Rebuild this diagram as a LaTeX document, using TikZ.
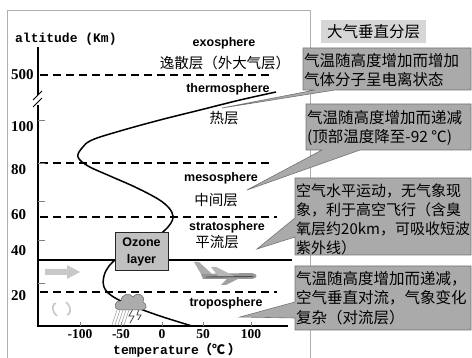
\documentclass[tikz,border=0pt]{standalone}
\usepackage{fontspec}
\setmainfont{Liberation Serif}
\setsansfont{Liberation Sans}
\setmonofont{Liberation Mono}
\newfontfamily\cjk{Noto Sans CJK SC}
\usetikzlibrary{calc,arrows.meta}

\definecolor{notegray}{RGB}{170,170,170}
\definecolor{noteedge}{RGB}{115,115,115}
\definecolor{titlegray}{RGB}{214,214,214}
\definecolor{ozonegray}{RGB}{192,192,192}
\definecolor{framegray}{RGB}{175,175,175}
\definecolor{palegray}{RGB}{200,200,200}
\definecolor{planegray}{RGB}{150,150,150}

\begin{document}
\begin{tikzpicture}[
		x=1pt,y=-1pt,
		every node/.style={inner sep=0pt},
		layername/.style={font=\sffamily\bfseries\fontsize{12.5}{14}\selectfont},
		layercn/.style={font=\cjk\fontsize{14.5}{16}\selectfont},
		notetext/.style={font=\cjk\fontsize{15.5}{19.5}\selectfont, align=left, anchor=north west},
		note/.style={fill=notegray, draw=noteedge, line width=0.6pt},
		level/.style={line width=1.3pt, dash pattern=on 8pt off 5pt},
		ylab/.style={font=\bfseries\fontsize{15}{16}\selectfont, anchor=west},
		xlab/.style={font=\bfseries\fontsize{13.5}{15}\selectfont},
	]
	\useasboundingbox (0,0) rectangle (472,358);

	% frame and title
	\draw[framegray, line width=0.8pt] (7,358) -- (7,10) -- (310,10) -- (310,358);
	\node[fill=titlegray, minimum width=105pt, minimum height=23pt,
		font=\cjk\fontsize{15.5}{16}\selectfont] (title) at (373.5,31.5) {大气垂直分层};

	% callouts
	\filldraw[note] (303,48) -- (471,48) -- (471,90) -- (335,90) -- (222,108) -- (315,90) -- (303,90) -- cycle;
	\filldraw[note] (306,104) -- (471,104) -- (471,150) -- (360,150) -- (247,190) -- (322,150) -- (306,150) -- cycle;
	\filldraw[note] (295,178) -- (471,178) -- (471,255) -- (295,255) -- (295,237) -- (257,249) -- (295,218) -- cycle;
	\filldraw[note] (295,266) -- (471,266) -- (471,330) -- (295,330) -- (295,318) -- (240,317) -- (295,302) -- cycle;
	\node[notetext] (thermonote) at (304,53) {气温随高度增加而增加\\气体分子呈电离状态};
	\node[notetext] (mesonote) at (307,110) {气温随高度增加而递减\\(顶部温度降至-92 ℃)};
	\node[notetext, font=\cjk\fontsize{15}{19}\selectfont] (stratonote) at (296,184)
		{空气水平运动，无气象现\\象，利于高空飞行（含臭\\氧层约20km，可吸收短波\\紫外线）};
	\node[notetext] (troponote) at (296,271) {气温随高度增加而递减，\\空气垂直对流，气象变化\\复杂（对流层）};

	% layer boundaries
	\draw[level] (40,75) -- (271,75);
	\draw[level] (40,163) -- (271,163);
	\draw[level] (40,217) -- (277,217);
	\draw[level] (40,292) -- (277,292);
	\draw[line width=1.2pt] (38,260) -- (292,260);

	% axes
	\draw[line width=1.3pt] (38,47) -- (38,95);
	\draw[line width=1.3pt] (38,105) -- (38,326) -- (288,326);
	\draw[line width=0.9pt] (33,100) -- (42,91);
	\draw[line width=0.9pt] (33,107) -- (42,98);
	\foreach \y in {120,163,201,240,283}
		\draw[gray, line width=0.8pt] (38,\y) -- (45,\y);
	\foreach \x in {80,121,162,203,251}
		\draw[gray, line width=0.8pt] (\x,326) -- (\x,322);

	\node[ylab] (y500) at (11,75) {500};
	\node[ylab] (y100) at (11,127) {100};
	\node[ylab] (y80) at (11,170) {80};
	\node[ylab] (y60) at (11,215) {60};
	\node[ylab] (y40) at (11,251) {40};
	\node[ylab] (y20) at (11,296) {20};
	\node[xlab] (xm100) at (80,334) {-100};
	\node[xlab] (xm50) at (121,334) {-50};
	\node[xlab] (x0) at (162,334) {0};
	\node[xlab] (x50) at (203,334) {50};
	\node[xlab] (x100) at (251,334) {100};
	\node[font=\ttfamily\bfseries\fontsize{13}{15}\selectfont, anchor=west] (altitude) at (15,39) {altitude (Km)};
	\node[anchor=west] (temperature) at (113,350)
		{\ttfamily\bfseries\fontsize{13}{15}\selectfont temperature\cjk（℃ ）};

	% temperature profile
	\draw[line width=1.5pt] plot[smooth, tension=0.6] coordinates {
		(192,326) (160,316) (130,305) (112,296) (104,287) (104,276) (109,266)
		(118,258) (135,249) (152,240) (164,231) (171,223) (173,216) (169,208)
		(158,199) (135,187) (110,176) (88,166) (78,157) (82,148) (92,140)
		(120,131) (160,120) (200,110) (240,100) (276,92)};

	\node[fill=ozonegray, draw=black!85, line width=1pt, minimum width=53pt, minimum height=38pt,
		align=center, font=\sffamily\bfseries\fontsize{12.5}{17}\selectfont] (ozone) at (141.5,252) {Ozone\\layer};

	% layer names
	\node[layername] (exo) at (224,43) {exosphere};
	\node[layercn] (exocn) at (225,63) {逸散层（外大气层）};
	\node[layername] (thermo) at (228,89) {thermosphere};
	\node[layercn] (thermocn) at (224,118) {热层};
	\node[layername] (meso) at (221,178) {mesosphere};
	\node[layercn] (mesocn) at (216,200) {中间层};
	\node[layername] (strato) at (227,227) {stratosphere};
	\node[layercn] (stratocn) at (217,242) {平流层};
	\node[layername] (tropo) at (226,303) {troposphere};

	% airplane
	\fill[planegray!80] (201,274) -- (194,262) -- (199,262) -- (212,274) -- cycle;
	\fill[planegray] (201,274) -- (252,273) .. controls (258,274) and (258,278) .. (252,279) -- (203,279) -- cycle;
	\fill[planegray!70] (218,276) -- (211,267) -- (216,267) -- (234,276) -- cycle;
	\fill[planegray!90] (228,278) -- (221,285) -- (226,285) -- (240,278) -- cycle;
	\draw[black!70, line width=0.9pt] (206,277) -- (253,276.5);

	% wind arrows
	\fill[palegray] (45,269) -- (67,269) -- (67,265) -- (80,272) -- (67,279) -- (67,275) -- (45,275) -- cycle;
	\draw[palegray, line width=1.6pt, -{Latex[length=4pt]}] (57,316) .. controls (52,312) and (52,306) .. (57,302);
	\draw[palegray, line width=1.6pt, -{Latex[length=4pt]}] (66,302) .. controls (71,306) and (71,312) .. (66,316);

	% storm cloud
	\foreach \x in {117,120,123,126,129}
		\draw[palegray!80!black, line width=0.6pt] (\x,310) -- (\x-5,325);
	\draw[black!75, line width=0.8pt] (133,309) -- (129,316) -- (134,316) -- (130,323);
	\draw[black!75, line width=0.8pt] (139,309) -- (137,315) -- (141,315) -- (138,320);
	\filldraw[fill=gray!65, draw=black!60, line width=0.5pt] (119,310) .. controls (113,309) and (114,300) .. (121,301)
		.. controls (121,294) and (130,292) .. (133,297) .. controls (137,291) and (146,295) .. (143,302)
		.. controls (148,304) and (147,311) .. (141,310) -- cycle;

\end{tikzpicture}
\end{document}
